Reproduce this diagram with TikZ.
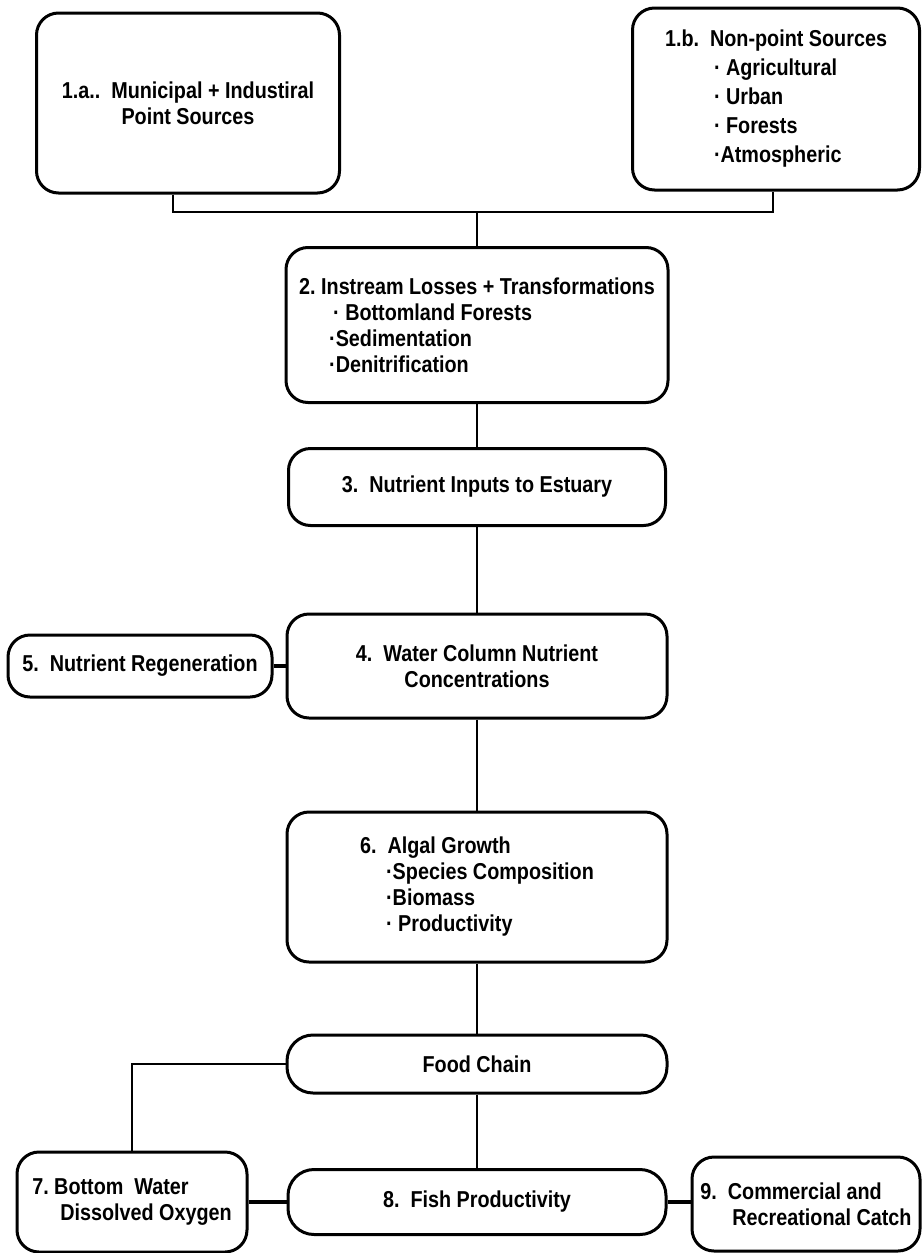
\documentclass[tikz,border=0pt]{standalone}
\usepackage{fontspec}
\setmainfont{Liberation Sans}[FakeStretch=0.86]
\usepackage{tikz}

\begin{document}
\begin{tikzpicture}[x=1pt, y=-1pt,
box/.style = {shape=rectangle, rounded corners=22pt,
	draw, line width=3pt, inner sep=0pt, align=center,
	font=\fontsize{23}{26}\selectfont\bfseries},
link/.style = {line width=2.2pt},
stub/.style = {line width=4pt}]
\useasboundingbox (0,0) rectangle (923,1253);
% sources
\node[box, minimum width=303pt, minimum height=180pt] (n1a) at (188,103)
	{1.a..\ \ Municipal + Industiral\\Point Sources};
\node[box, align=left, minimum width=287pt, minimum height=182pt] (n1b) at (776,99)
	{1.b.\ \ Non-point Sources\\[3pt]
	\hspace*{49pt}· Agricultural\\[3pt]
	\hspace*{49pt}· Urban\\[3pt]
	\hspace*{49pt}· Forests\\[3pt]
	\hspace*{49pt}·Atmospheric};
\coordinate (join) at (477,212);
% river and estuary
\node[box, align=left, minimum width=382pt, minimum height=155pt] (n2) at (477,325)
	{2.\ Instream Losses + Transformations\\
	\hspace*{34pt}· Bottomland Forests\\
	\hspace*{30pt}·Sedimentation\\
	\hspace*{30pt}·Denitrification};
\node[box, minimum width=377pt, minimum height=77pt] (n3) at (477,487)
	{3.\ \ Nutrient Inputs to Estuary};
\node[box, minimum width=380pt, minimum height=104pt] (n4) at (477,666)
	{4.\ \ Water Column Nutrient\\Concentrations};
\node[box, minimum width=264pt, minimum height=62pt] (n5) at (140,666)
	{5.\ \ Nutrient Regeneration};
\node[box, align=left, minimum width=380pt, minimum height=150pt] (n6) at (477,887)
	{6.\ \ Algal Growth\\
	\hspace*{26pt}·Species Composition\\
	\hspace*{26pt}·Biomass\\
	\hspace*{26pt}· Productivity};
% effects
\node[box, rounded corners=26pt, minimum width=380pt, minimum height=58pt] (food) at (477,1064)
	{Food Chain};
\node[box, align=left, minimum width=230pt, minimum height=100pt] (n7) at (132,1202)
	{7.\ Bottom\ \ Water\\\hspace*{28pt}Dissolved Oxygen};
\node[box, rounded corners=26pt, minimum width=378pt, minimum height=65pt] (n8) at (477,1202)
	{8.\ \ Fish Productivity};
\node[box, align=left, minimum width=228pt, minimum height=94pt] (n9) at (806,1204)
	{9.\ \ Commercial and\\\hspace*{32pt}Recreational Catch};

\draw[link] ([xshift=-15pt]n1a.south) |- (join) -| ([xshift=-3pt]n1b.south);
\draw[link] (join) -- (n2.north);
\draw[link] (n2) -- (n3);
\draw[link] (n3) -- (n4);
\draw[link] (n4) -- (n6);
\draw[link] (n6) -- (food);
\draw[link] (food) -- (n8);
\draw[stub] (n5) -- (n4);
\draw[link] (food.west) -| (n7.north);
\draw[stub] (n7) -- (n8);
\draw[stub] (n8.east) -- (n8.east -| n9.west);
\end{tikzpicture}
\end{document}
